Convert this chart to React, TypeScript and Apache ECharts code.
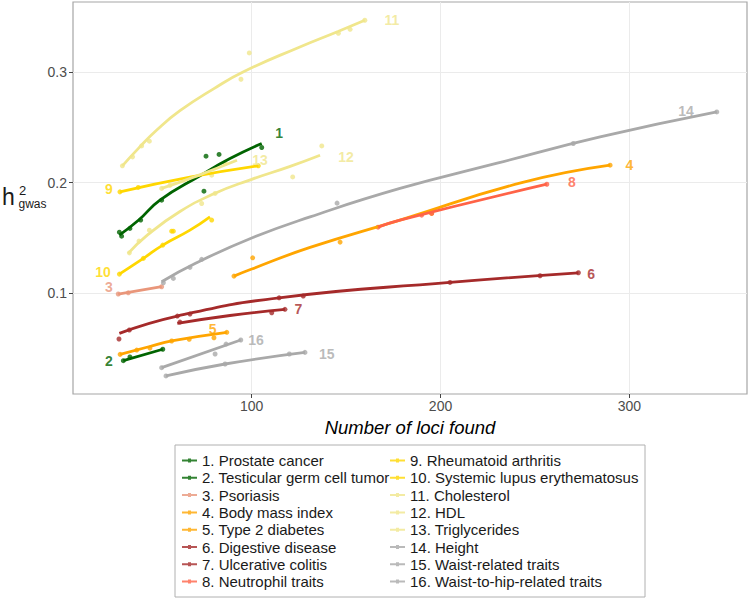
import React, { useEffect, useRef } from 'react';
import * as echarts from 'echarts';

const traitNames = [
  '1. Prostate cancer',
  '2. Testicular germ cell tumor',
  '3. Psoriasis',
  '4. Body mass index',
  '5. Type 2 diabetes',
  '6. Digestive disease',
  '7. Ulcerative colitis',
  '8. Neutrophil traits',
  '9. Rheumatoid arthritis',
  '10. Systemic lupus erythematosus',
  '11. Cholesterol',
  '12. HDL',
  '13. Triglycerides',
  '14. Height',
  '15. Waist-related traits',
  '16. Waist-to-hip-related traits',
];

const traitColors = [
  '#006400', '#006400', '#E9967A', '#FFA500', '#FFA500', '#A52A2A', '#A52A2A', '#FF6347',
  '#FFD700', '#FFD700', '#F0E68C', '#F0E68C', '#F0E68C', '#A9A9A9', '#A9A9A9', '#A9A9A9',
];

// fitted curves: [number of loci, h2gwas]
const fit1 = [[29.9, 0.1526], [40, 0.166], [51.4, 0.1842], [72.6, 0.2063], [88.5, 0.2218], [105.3, 0.2354]];
const fit2 = [[32, 0.0392], [52.9, 0.0495]];
const fit3 = [[29.3, 0.0994], [52.3, 0.106]];
const fit4 = [[90.6, 0.1156], [100, 0.122], [130.9, 0.1415], [178.5, 0.1662], [243, 0.2], [289.8, 0.2158]];
const fit5 = [[30.3, 0.0449], [46, 0.052], [57.6, 0.057], [86.8, 0.0648]];
const fit6 = [[29.9, 0.0639], [60.6, 0.0795], [114.5, 0.096], [205, 0.1099], [273, 0.1186]];
const fit7 = [[60.6, 0.0729], [88.5, 0.08], [117.6, 0.0856]];
const fit8 = [[166.9, 0.1598], [178.5, 0.1662], [256.3, 0.1986]];
const fit9 = [[30.2, 0.1917], [67.3, 0.205], [103.5, 0.2152]];
const fit10 = [[29.9, 0.1174], [42.6, 0.1316], [52.9, 0.1436], [67.3, 0.1571], [77.9, 0.1691]];
const fit11 = [[31.5, 0.2152], [40, 0.231], [50, 0.248], [62, 0.265], [80, 0.285], [95.4, 0.3], [125.5, 0.3226], [145.7, 0.3366], [159.9, 0.3467]];
const fit12 = [[34.6, 0.1361], [45, 0.153], [62, 0.174], [80, 0.19], [100, 0.203], [120, 0.2145], [136.2, 0.2248]];
const fit13 = [[52.3, 0.1948], [70, 0.2055], [92.2, 0.2203]];
const fit14 = [[52.3, 0.1105], [70, 0.127], [100, 0.15], [130.9, 0.1691], [178.5, 0.1948], [230, 0.2176], [284.5, 0.2413], [346.3, 0.2639]];
const fit15 = [[54.6, 0.0254], [85.9, 0.0362], [128.2, 0.0467]];
const fit16 = [[52.3, 0.0329], [94.2, 0.0579]];

// observed points
const pts1 = [[29.9, 0.1553], [31.1, 0.1517], [35.5, 0.1587], [41.2, 0.1662], [52.3, 0.1842], [74.7, 0.1923], [75.8, 0.2239], [82.7, 0.2255], [105.3, 0.2318]];
const pts2 = [[32, 0.0392], [35.5, 0.0425], [52.9, 0.0495]];
const pts3 = [[29.3, 0.0994], [34.6, 0.1005], [52.3, 0.106]];
const pts4 = [[90.6, 0.1156], [100.5, 0.1321], [146.8, 0.1463], [195.3, 0.1722], [289.8, 0.2158]];
const pts5 = [[30.3, 0.0449], [39.1, 0.0488], [46.1, 0.0506], [57.6, 0.057], [66.9, 0.0585], [80, 0.0599], [86.8, 0.0648]];
const pts6 = [[29.7, 0.0588], [35.2, 0.0669], [60.6, 0.0795], [67.3, 0.0813], [114.5, 0.096], [127.3, 0.0976], [205, 0.1099], [252.7, 0.1159], [273, 0.1186]];
const pts7 = [[62, 0.0741], [110.6, 0.0825], [117.6, 0.0856]];
const pts8 = [[166.9, 0.1598], [190, 0.1707], [195.3, 0.1722], [256.3, 0.1986]];
const pts9 = [[30.2, 0.1917], [39.9, 0.1957], [103.5, 0.2152]];
const pts10 = [[29.9, 0.1174], [42.6, 0.1316], [52.9, 0.1436], [57.6, 0.1562], [58.5, 0.1562], [78.8, 0.1662]];
const pts11 = [[31.5, 0.2152], [36.9, 0.2233], [41.7, 0.2332], [45.8, 0.2375], [94.3, 0.2934], [98.7, 0.3172], [145.9, 0.335], [152.1, 0.3385], [159.9, 0.3467]];
const pts12 = [[35.2, 0.1366], [40.3, 0.1472], [45.8, 0.1571], [73.5, 0.1812], [80.6, 0.1903], [121.7, 0.2052], [137.1, 0.2332]];
const pts13 = [[52.3, 0.1948], [56.7, 0.1977], [78.8, 0.2068], [85.9, 0.2173]];
const pts14 = [[53.2, 0.1096], [58.5, 0.1135], [67.3, 0.1235], [73.5, 0.1307], [145.2, 0.1815], [270.3, 0.2354], [346.3, 0.2639]];
const pts15 = [[54.6, 0.0254], [85.9, 0.0362], [119.9, 0.0452], [128.2, 0.0467]];
const pts16 = [[52.3, 0.0329], [80.6, 0.0452], [86.4, 0.0542], [94.2, 0.0579]];

// number labels placed beside the curves
const labelText = ['1', '2', '3', '4', '5', '6', '7', '8', '9', '10', '11', '12', '13', '14', '15', '16'];
const labelX = [114.5, 24.4, 24.4, 300, 79.3, 279.7, 124.7, 269.5, 24.4, 21.2, 174.3, 149.9, 104.4, 330, 139.7, 102.3];
const labelY = [0.2447, 0.0392, 0.106, 0.2158, 0.0675, 0.1174, 0.0856, 0.2007, 0.1941, 0.1192, 0.3467, 0.223, 0.2203, 0.2648, 0.0452, 0.0579];

const xTicks = [100, 200, 300];
const yTicks = [0.1, 0.2, 0.3];

const fits = [fit1, fit2, fit3, fit4, fit5, fit6, fit7, fit8, fit9, fit10, fit11, fit12, fit13, fit14, fit15, fit16];
const pts = [pts1, pts2, pts3, pts4, pts5, pts6, pts7, pts8, pts9, pts10, pts11, pts12, pts13, pts14, pts15, pts16];

export default function App() {
  const ref = useRef<HTMLDivElement>(null);
  useEffect(() => {
    if (!ref.current) return;
    const chart = echarts.init(ref.current, null, { renderer: 'svg' });
    const font = 'Liberation Sans, Arial, Helvetica, sans-serif';
    const series: any[] = [];
    traitNames.forEach((name, i) => {
      series.push({
        type: 'scatter', name, data: pts[i], symbolSize: 5, z: 2, silent: true,
        itemStyle: { color: traitColors[i] },
      });
      series.push({
        type: 'line', name, data: fits[i], smooth: 0.5, showSymbol: false, z: 3, silent: true,
        lineStyle: { width: 2.8, color: traitColors[i] }, itemStyle: { color: traitColors[i] },
      });
    });
    series.push({
      type: 'scatter', name: 'labels', symbolSize: 1, z: 5, silent: true,
      itemStyle: { color: 'transparent' },
      label: { show: true, position: 'inside', fontSize: 14, fontWeight: 'bold', fontFamily: font },
      data: labelText.map((t, i) => ({
        value: [labelX[i], labelY[i]],
        label: { formatter: t, color: traitColors[i] },
      })),
    });
    const legendIcon = 'path://M0,2 L6,2 L6,1 L9,1 L9,2 L15,2 L15,4 L9,4 L9,5 L6,5 L6,4 L0,4 Z';
    const legendCommon = {
      type: 'plain', orient: 'vertical', itemWidth: 15, itemHeight: 4, itemGap: 2.3, icon: legendIcon, selectedMode: false,
      padding: 0, height: 142,
      textStyle: { fontSize: 15, lineHeight: 15, color: '#1a1a1a', fontFamily: font },
    };
    chart.setOption({
      animation: false,
      textStyle: { fontFamily: font },
      grid: { left: 73, right: 2, top: 2, bottom: 205, show: true, borderColor: '#a6a6a6', borderWidth: 1.2, backgroundColor: '#ffffff' },
      xAxis: {
        type: 'value', min: 5.35, max: 362.3,
        name: 'Number of loci found', nameLocation: 'middle', nameGap: 14,
        nameTextStyle: { fontSize: 18.5, fontStyle: 'italic', color: '#000', fontFamily: font },
        axisLine: { show: false },
        axisTick: { show: true, length: 4, customValues: xTicks, lineStyle: { color: '#444' } },
        axisLabel: { customValues: xTicks, fontSize: 14, color: '#4d4d4d', margin: 5 },
        splitLine: { show: true, lineStyle: { color: '#ebebeb', width: 1 } },
      },
      yAxis: {
        type: 'value', min: 0.0091, max: 0.3632,
        axisLine: { show: false },
        axisTick: { show: true, length: 4, customValues: yTicks, lineStyle: { color: '#444' } },
        axisLabel: { customValues: yTicks, fontSize: 14, color: '#4d4d4d', margin: 6, formatter: (v: number) => v.toFixed(1) },
        splitLine: { show: true, lineStyle: { color: '#ebebeb', width: 1 } },
      },
      legend: [
        { ...legendCommon, left: 182, top: 453, data: traitNames.slice(0, 8) },
        { ...legendCommon, left: 390, top: 453, data: traitNames.slice(8) },
      ],
      graphic: [
        { type: 'rect', shape: { x: 175, y: 445, width: 470, height: 152 }, style: { fill: 'none', stroke: '#b0b0b0', lineWidth: 1 }, silent: true },
        { type: 'text', x: 2, y: 197, style: { text: 'h', fontSize: 23, fill: '#1a1a1a', fontFamily: font, verticalAlign: 'middle' } },
        { type: 'text', x: 19, y: 190, style: { text: '2', fontSize: 13, fill: '#1a1a1a', fontFamily: font, verticalAlign: 'middle' } },
        { type: 'text', x: 18.5, y: 204, style: { text: 'gwas', fontSize: 12, fill: '#1a1a1a', fontFamily: font, verticalAlign: 'middle' } },
      ],
      series,
    });
    return () => chart.dispose();
  }, []);
  return <div ref={ref} style={{ position: 'absolute', left: 0, top: 0, width: 749, height: 599 }} />;
}
